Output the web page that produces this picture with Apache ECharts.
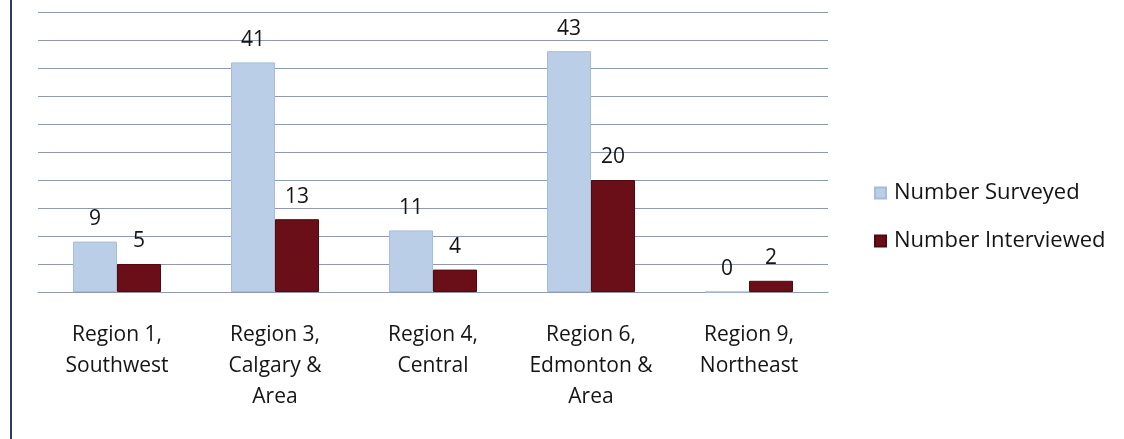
<!DOCTYPE html>
<html>
<head>
<meta charset="utf-8">
<style>
  html, body { margin: 0; padding: 0; background: #ffffff; }
  #chart { position: absolute; left: 0; top: 0; width: 1124px; height: 439px; }
  #frame { position: absolute; left: 10px; top: 0; width: 2px; height: 439px; background: #2c3d60; }
</style>
<script src="https://cdn.jsdelivr.net/npm/echarts@6/dist/echarts.min.js"></script>
</head>
<body>
<div id="chart"></div>
<div id="frame"></div>
<script>
// Survey coverage by region
const categories = [
  'Region 1,\nSouthwest',
  'Region 3,\nCalgary &\nArea',
  'Region 4,\nCentral',
  'Region 6,\nEdmonton &\nArea',
  'Region 9,\nNortheast'
];
const surveyed = [9, 41, 11, 43, 0];
const interviewed = [5, 13, 4, 20, 2];
const seriesNames = ['Number Surveyed', 'Number Interviewed'];

const FONT = '"Open Sans"';
const TEXT = '#141414';
const chart = echarts.init(document.getElementById('chart'), null, { renderer: 'canvas' });

const valueLabel = {
  show: true,
  position: 'top',
  distance: 12,
  fontFamily: FONT,
  fontSize: 21,
  color: TEXT
};

chart.setOption({
  animation: false,
  backgroundColor: '#ffffff',
  grid: { left: 38, right: 296, top: 12, bottom: 147, containLabel: false },
  legend: {
    orient: 'vertical',
    left: 869,
    top: 177,
    itemWidth: 11,
    itemHeight: 11,
    itemGap: 26,
    icon: 'rect',
    textStyle: { fontFamily: FONT, fontSize: 22, color: TEXT, padding: [0, 0, 0, 3] },
    data: seriesNames
  },
  xAxis: {
    type: 'category',
    data: categories,
    axisLine: { show: true, lineStyle: { color: '#8f9ab0', width: 1 } },
    axisTick: { show: false },
    axisLabel: {
      fontFamily: FONT,
      fontSize: 21,
      color: TEXT,
      lineHeight: 31,
      margin: 28,
      interval: 0
    }
  },
  yAxis: {
    type: 'value',
    min: 0,
    max: 50,
    interval: 5,
    axisLine: { show: false },
    axisTick: { show: false },
    axisLabel: { show: false },
    splitLine: { show: true, lineStyle: { color: '#8f9ab0', width: 1 } }
  },
  series: [
    {
      name: seriesNames[0],
      type: 'bar',
      data: surveyed,
      barWidth: 44,
      barGap: '0%',
      itemStyle: { color: '#bacee7', borderColor: '#a6bcd9', borderWidth: 1 },
      label: valueLabel
    },
    {
      name: seriesNames[1],
      type: 'bar',
      data: interviewed,
      barWidth: 44,
      barGap: '0%',
      itemStyle: { color: '#6a0f17', borderColor: '#4e0a10', borderWidth: 1 },
      label: valueLabel
    }
  ]
});
</script>
</body>
</html>
